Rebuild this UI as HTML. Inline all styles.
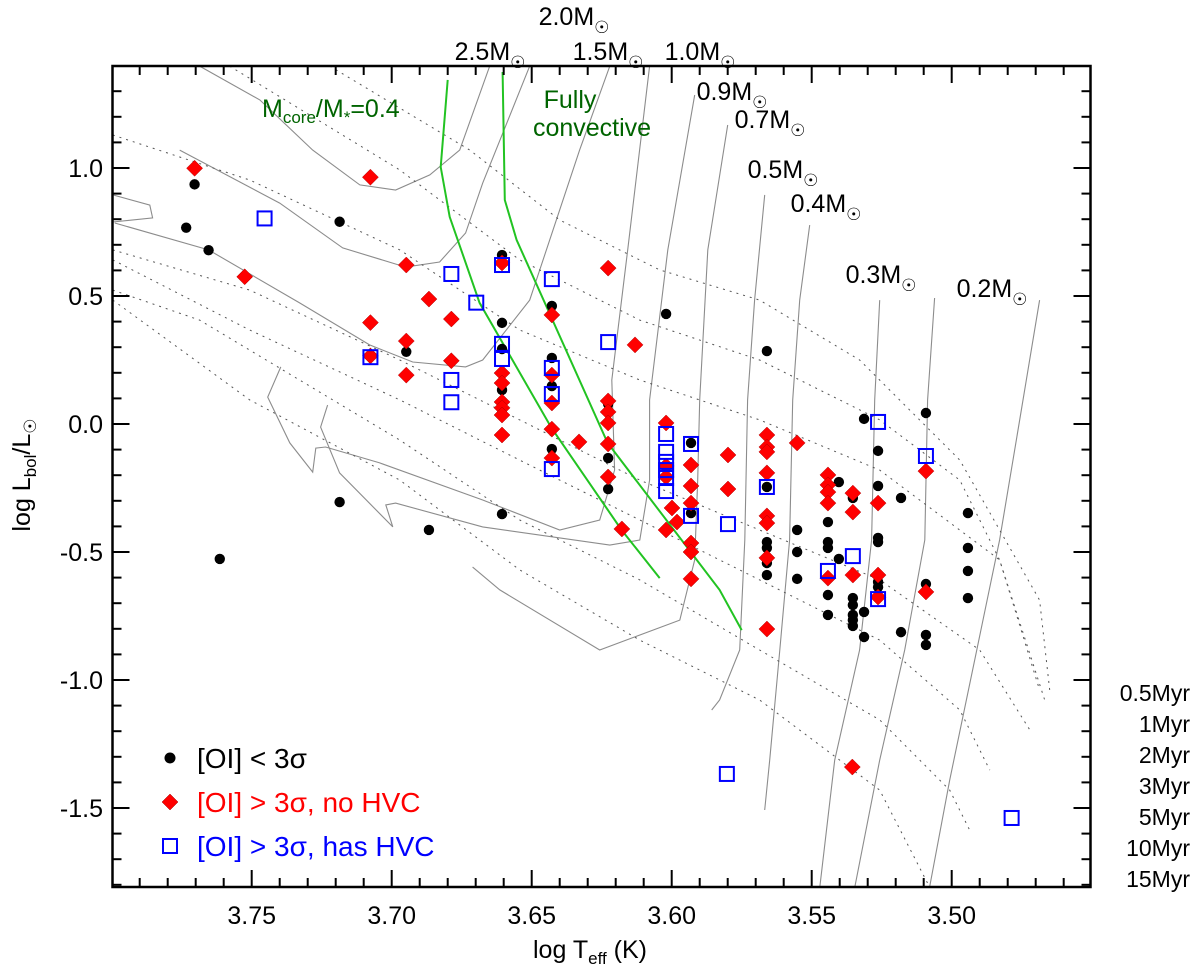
<!DOCTYPE html>
<html><head><meta charset="utf-8"><style>
html,body{margin:0;padding:0;background:#fff;}
svg{display:block;font-family:"Liberation Sans","DejaVu Sans",sans-serif;}
</style></head><body>
<svg id="chart" width="1200" height="970" viewBox="0 0 1200 970" xmlns="http://www.w3.org/2000/svg">
<defs><clipPath id="plotclip"><rect x="112" y="66" width="979" height="821"/></clipPath></defs>
<rect x="0" y="0" width="1200" height="970" fill="#fff"/>
<g id="tracks" clip-path="url(#plotclip)"></g>
<g id="isos" clip-path="url(#plotclip)"></g>
<g id="green" clip-path="url(#plotclip)"></g>
<g id="points"></g>
<g id="axes"></g>
<g id="labels" font-size="25">
<text x="574" y="25" text-anchor="middle">2.0M<tspan font-size="17" dy="8">☉</tspan></text>
<text x="490" y="60" text-anchor="middle">2.5M<tspan font-size="17" dy="8">☉</tspan></text>
<text x="608" y="60" text-anchor="middle">1.5M<tspan font-size="17" dy="8">☉</tspan></text>
<text x="700" y="60" text-anchor="middle">1.0M<tspan font-size="17" dy="8">☉</tspan></text>
<text x="732" y="100" text-anchor="middle">0.9M<tspan font-size="17" dy="8">☉</tspan></text>
<text x="770" y="128" text-anchor="middle">0.7M<tspan font-size="17" dy="8">☉</tspan></text>
<text x="783" y="178" text-anchor="middle">0.5M<tspan font-size="17" dy="8">☉</tspan></text>
<text x="826" y="212" text-anchor="middle">0.4M<tspan font-size="17" dy="8">☉</tspan></text>
<text x="881" y="283" text-anchor="middle">0.3M<tspan font-size="17" dy="8">☉</tspan></text>
<text x="992" y="297" text-anchor="middle">0.2M<tspan font-size="17" dy="8">☉</tspan></text>
<text x="262" y="117" fill="#006400">M<tspan font-size="17" dy="6">core</tspan><tspan dy="-6">/M</tspan><tspan font-size="17" dy="6">*</tspan><tspan dy="-6">=0.4</tspan></text>
<text x="570" y="108" fill="#006400" text-anchor="middle">Fully</text>
<text x="592" y="136" fill="#006400" text-anchor="middle">convective</text>
<g text-anchor="end" font-size="23">
<text x="1190" y="701">0.5Myr</text>
<text x="1190" y="732">1Myr</text>
<text x="1190" y="763">2Myr</text>
<text x="1190" y="794">3Myr</text>
<text x="1190" y="825">5Myr</text>
<text x="1190" y="856">10Myr</text>
<text x="1190" y="887">15Myr</text>
</g>
</g>
<g id="legend" font-size="28">
<circle cx="170" cy="758" r="5.5" fill="#000"/>
<text x="197" y="768" fill="#000">[OI] &lt; 3σ</text>
<polygon points="170,794 178,802 170,810 162,802" fill="#f00" stroke="#900" stroke-width="0.5"/>
<text x="197" y="812" fill="#f00">[OI] &gt; 3σ, no HVC</text>
<rect x="163" y="839" width="14" height="14" fill="none" stroke="#00f" stroke-width="2"/>
<text x="197" y="856" fill="#00f">[OI] &gt; 3σ, has HVC</text>
</g>
<text x="590" y="958" font-size="25" text-anchor="middle">log T<tspan font-size="17" dy="6">eff</tspan><tspan dy="-6"> (K)</tspan></text>
<text transform="translate(30,475) rotate(-90)" font-size="25" text-anchor="middle">log L<tspan font-size="17" dy="6">bol</tspan><tspan dy="-6">/L</tspan><tspan font-size="17" dy="6">☉</tspan></text>
</svg>
<script>
// ---- data ----
const blackT = [3.7704,3.7734,3.7654,3.7186,3.7614,3.7186,3.6867,3.6948,3.6606,3.6428,3.6606,3.6606,3.6428,3.6606,3.6428,3.6020,3.5660,3.6227,3.6428,3.6227,3.6227,3.6606,3.5931,3.5931,3.5660,3.5660,3.5660,3.5660,3.5660,3.5313,3.5092,3.5263,3.5403,3.5263,3.5181,3.5353,3.5442,3.5552,3.5442,3.4942,3.5552,3.5442,3.5442,3.5263,3.5263,3.4942,3.5403,3.5552,3.4942,3.5263,3.5263,3.5263,3.5092,3.5442,3.5353,3.5353,3.4942,3.5442,3.5353,3.5353,3.5313,3.5353,3.5181,3.5092,3.5092,3.5313];
const blackL = [0.936,0.767,0.679,0.790,-0.527,-0.305,-0.414,0.282,0.660,0.461,0.395,0.293,0.258,0.133,0.148,0.430,0.285,0.078,-0.098,-0.133,-0.254,-0.352,-0.074,-0.348,-0.246,-0.461,-0.484,-0.543,-0.590,0.020,0.043,-0.105,-0.227,-0.242,-0.289,-0.289,-0.309,-0.414,-0.383,-0.348,-0.500,-0.461,-0.484,-0.445,-0.461,-0.484,-0.527,-0.605,-0.574,-0.590,-0.617,-0.637,-0.625,-0.668,-0.680,-0.707,-0.680,-0.746,-0.746,-0.766,-0.734,-0.789,-0.813,-0.824,-0.863,-0.832];
const redT = [3.7704,3.7076,3.7525,3.6948,3.6867,3.6787,3.7076,3.6948,3.7076,3.6787,3.6948,3.6606,3.6227,3.6428,3.6131,3.6606,3.6606,3.6428,3.6606,3.6606,3.6606,3.6428,3.6227,3.6227,3.6227,3.6606,3.6428,3.6331,3.6227,3.6428,3.6227,3.6020,3.6020,3.6020,3.5931,3.5931,3.5931,3.5999,3.5981,3.6020,3.6178,3.5931,3.5931,3.5931,3.5799,3.5799,3.5660,3.5660,3.5660,3.5552,3.5660,3.5660,3.5660,3.5660,3.5442,3.5442,3.5442,3.5353,3.5442,3.5263,3.5353,3.5092,3.5442,3.5353,3.5263,3.5263,3.5092,3.5660,3.5355];
const redL = [0.999,0.964,0.575,0.621,0.488,0.410,0.396,0.324,0.266,0.247,0.191,0.629,0.609,0.426,0.309,0.199,0.160,0.191,0.086,0.063,0.035,0.082,0.090,0.047,0.004,-0.043,-0.020,-0.070,-0.078,-0.133,-0.207,0.004,-0.164,-0.207,-0.160,-0.242,-0.309,-0.328,-0.383,-0.414,-0.410,-0.465,-0.500,-0.605,-0.121,-0.254,-0.043,-0.090,-0.109,-0.074,-0.191,-0.359,-0.387,-0.523,-0.199,-0.238,-0.266,-0.270,-0.309,-0.309,-0.344,-0.184,-0.602,-0.590,-0.590,-0.676,-0.656,-0.801,-1.340];
const blueT = [3.7454,3.6787,3.6698,3.7076,3.6787,3.6787,3.6606,3.6428,3.6227,3.6606,3.6606,3.6428,3.6428,3.6428,3.6020,3.6020,3.6020,3.6020,3.6020,3.6020,3.5931,3.5931,3.5799,3.5660,3.5263,3.5092,3.5353,3.5442,3.5263,3.5803,3.4786];
const blueL = [0.803,0.586,0.474,0.261,0.172,0.085,0.621,0.566,0.320,0.313,0.254,0.219,0.117,-0.176,-0.039,-0.109,-0.148,-0.180,-0.211,-0.262,-0.078,-0.359,-0.391,-0.246,0.008,-0.125,-0.516,-0.574,-0.684,-1.367,-1.539];
const xTickLabels = ["3.75","3.70","3.65","3.60","3.55","3.50"];
const yTickLabels = ["1.0","0.5","0.0","-0.5","-1.0","-1.5"];
// model tracks [logT, logL]
const track25 = [[3.7686,1.398],[3.7471,1.266],[3.7282,1.070],[3.7114,0.934],[3.6986,0.914],[3.6864,0.973],[3.6757,1.070],[3.6650,1.398]];
const track20 = [[3.7757,1.070],[3.7400,0.863],[3.7175,0.688],[3.6950,0.613],[3.6829,0.633],[3.6736,0.746],[3.6675,0.941],[3.6507,1.398]];
const track15 = [[3.7989,0.785],[3.7654,0.680],[3.7329,0.473],[3.7079,0.309],[3.6925,0.242],[3.6736,0.223],[3.6675,0.250],[3.6507,0.484],[3.6329,1.070],[3.6221,1.398]];
const trackHook = [[3.7996,0.895],[3.7864,0.855],[3.7854,0.805],[3.7996,0.789]];
const track10 = [[3.6079,1.398],[3.6157,0.680],[3.6214,0.172],[3.6204,-0.180],[3.6257,-0.375],[3.6400,-0.414],[3.6675,-0.297],[3.7043,-0.152],[3.7236,-0.090],[3.7271,-0.094],[3.7282,-0.188],[3.7364,-0.074],[3.7443,0.105],[3.7396,0.223]];
const track09 = [[3.5918,1.285],[3.6014,0.680],[3.6079,0.094],[3.6079,-0.219],[3.6114,-0.453],[3.6221,-0.473],[3.6675,-0.402],[3.6986,-0.309],[3.7021,-0.316],[3.6996,-0.402],[3.7186,-0.191],[3.7254,-0.012],[3.7229,0.074]];
const track07 = [[3.5800,1.168],[3.5871,0.680],[3.5900,0.094],[3.5907,-0.219],[3.5918,-0.531],[3.5971,-0.766],[3.6257,-0.883],[3.6614,-0.648],[3.6711,-0.559]];
const track05 = [[3.5668,0.895],[3.5704,0.484],[3.5729,0.094],[3.5739,-0.453],[3.5757,-0.883],[3.5829,-1.078],[3.5857,-1.117]];
const track04 = [[3.5507,0.777],[3.5543,0.484],[3.5568,0.094],[3.5579,-0.453],[3.5614,-0.883],[3.5650,-1.313],[3.5668,-1.508]];
const track03 = [[3.5257,0.484],[3.5275,0.094],[3.5286,-0.453],[3.5329,-0.883],[3.5418,-1.313],[3.5471,-1.809]];
const track03b = [[3.5061,0.492],[3.5086,0.094],[3.5096,-0.453],[3.5168,-0.883],[3.5257,-1.313],[3.5346,-1.809]];
const track02 = [[3.4686,0.484],[3.4757,0.016],[3.4829,-0.453],[3.4918,-0.922],[3.5007,-1.391],[3.5079,-1.809]];
const iso05 = [[3.7221,1.398],[3.6721,1.070],[3.6400,0.797],[3.6043,0.602],[3.5686,0.484],[3.5329,0.250],[3.4971,-0.141],[3.4686,-0.688],[3.4650,-1.039]];
const iso1 = [[3.7579,1.398],[3.6971,0.992],[3.6543,0.641],[3.6114,0.406],[3.5686,0.250],[3.5257,0.016],[3.4971,-0.219],[3.4829,-0.531],[3.4668,-1.078]];
const iso2 = [[3.7996,1.129],[3.7507,0.953],[3.6971,0.680],[3.6543,0.367],[3.6114,0.172],[3.5686,0.016],[3.5257,-0.180],[3.4829,-0.531],[3.4686,-1.039]];
const iso3 = [[3.7996,0.680],[3.7507,0.523],[3.6971,0.250],[3.6543,0.016],[3.6114,-0.219],[3.5686,-0.414],[3.5257,-0.609],[3.4900,-0.883],[3.4721,-1.195]];
const iso5 = [[3.7996,0.641],[3.7507,0.367],[3.6971,0.094],[3.6543,-0.141],[3.6114,-0.375],[3.5686,-0.609],[3.5257,-0.844],[3.4971,-1.117],[3.4864,-1.352]];
const iso10 = [[3.7996,0.523],[3.7686,0.406],[3.6971,-0.063],[3.6543,-0.375],[3.6114,-0.609],[3.5686,-0.883],[3.5257,-1.156],[3.5007,-1.430],[3.4936,-1.586]];
const iso15 = [[3.7996,0.484],[3.7507,0.094],[3.6971,-0.219],[3.6543,-0.570],[3.6114,-0.844],[3.5686,-1.078],[3.5257,-1.430],[3.5079,-1.809]];
const mcoreLine = [[3.6800,1.344],[3.6825,1.004],[3.6793,0.809],[3.6686,0.473],[3.6429,-0.016],[3.6179,-0.414],[3.6043,-0.602]];
const convLine = [[3.6604,1.375],[3.6596,0.875],[3.6554,0.719],[3.6229,-0.074],[3.5829,-0.648],[3.5750,-0.805]];

// ---- scales ----
const X0=671.7, T0=3.60, XS=2800, Y0=424, YS=256;
function xs(t){return X0+(T0-t)*XS;}
function ys(l){return Y0-l*YS;}
const NS="http://www.w3.org/2000/svg";
function mk(tag,attrs,parent){const e=document.createElementNS(NS,tag);for(const k in attrs)e.setAttribute(k,attrs[k]);parent.appendChild(e);return e;}
function pathOf(arr){return arr.map((p,i)=>(i?'L':'M')+xs(p[0]).toFixed(1)+','+ys(p[1]).toFixed(1)).join(' ');}

const gT=document.getElementById('tracks');
[track25,track20,track15,trackHook,track10,track09,track07,track05,track04,track03,track03b,track02].forEach(tr=>{
  const p=mk('path',{d:pathOf(tr),fill:'none',stroke:'#8c8c8c','stroke-width':1.1},gT);
  
  
});
const gI=document.getElementById('isos');
[iso05,iso1,iso2,iso3,iso5,iso10,iso15].forEach(tr=>{
  const p=mk('path',{d:pathOf(tr),fill:'none',stroke:'#555','stroke-width':1,'stroke-dasharray':'2,5'},gI);
  
  
});
const gG=document.getElementById('green');
[mcoreLine,convLine].forEach(tr=>{
  const p=mk('path',{d:pathOf(tr),fill:'none',stroke:'#22c322','stroke-width':2},gG);
  
  
});

const gP=document.getElementById('points');
blackT.forEach((t,i)=>{
  const c=mk('circle',{cx:xs(t),cy:ys(blackL[i]),r:5.2,fill:'#000'},gP);
  
  
});
redT.forEach((t,i)=>{
  const x=xs(t),y=ys(redL[i]);
  const d=mk('polygon',{points:`${x},${y-8} ${x+8},${y} ${x},${y+8} ${x-8},${y}`,fill:'#f00',stroke:'#a00','stroke-width':0.5},gP);
  
  
});
blueT.forEach((t,i)=>{
  const x=xs(t),y=ys(blueL[i]);
  const r=mk('rect',{x:x-7,y:y-7,width:14,height:14,fill:'none',stroke:'#0000ff','stroke-width':2},gP);
  
  
});

// ---- axes ----
const gA=document.getElementById('axes');
const L=112.5,R=1090.5,T=66,B=887;
const fr=mk('rect',{x:L,y:T,width:R-L,height:B-T,fill:'none',stroke:'#000','stroke-width':2.5},gA);


for(let k=346;k<=379;k++){
  const t=k/100, x=xs(t); if(x<L+1||x>R-1)continue;
  const major=(k%5===0), len=major?17:9;
  const a=mk('line',{x1:x,y1:B,x2:x,y2:B-len,stroke:'#000','stroke-width':2},gA);
  
  
  const b=mk('line',{x1:x,y1:T,x2:x,y2:T+len,stroke:'#000','stroke-width':2},gA);
  
  
}
xTickLabels.forEach(s=>{
  const tx=mk('text',{x:xs(parseFloat(s)),y:924,'font-size':25,'text-anchor':'middle'},gA);
  tx.textContent=s;
  
  
});
for(let k=-18;k<=14;k++){
  const y=ys(k/10); if(y<T+1||y>B-1)continue;
  const major=(k%5===0), len=major?17:9;
  const a=mk('line',{x1:L,y1:y,x2:L+len,y2:y,stroke:'#000','stroke-width':2},gA);
  
  
  const b=mk('line',{x1:R,y1:y,x2:R-len,y2:y,stroke:'#000','stroke-width':2},gA);
  
  
}
yTickLabels.forEach(s=>{
  const tx=mk('text',{x:103,y:ys(parseFloat(s))+9,'font-size':25,'text-anchor':'end'},gA);
  tx.textContent=s;
  
  
});
</script>
</body></html>
